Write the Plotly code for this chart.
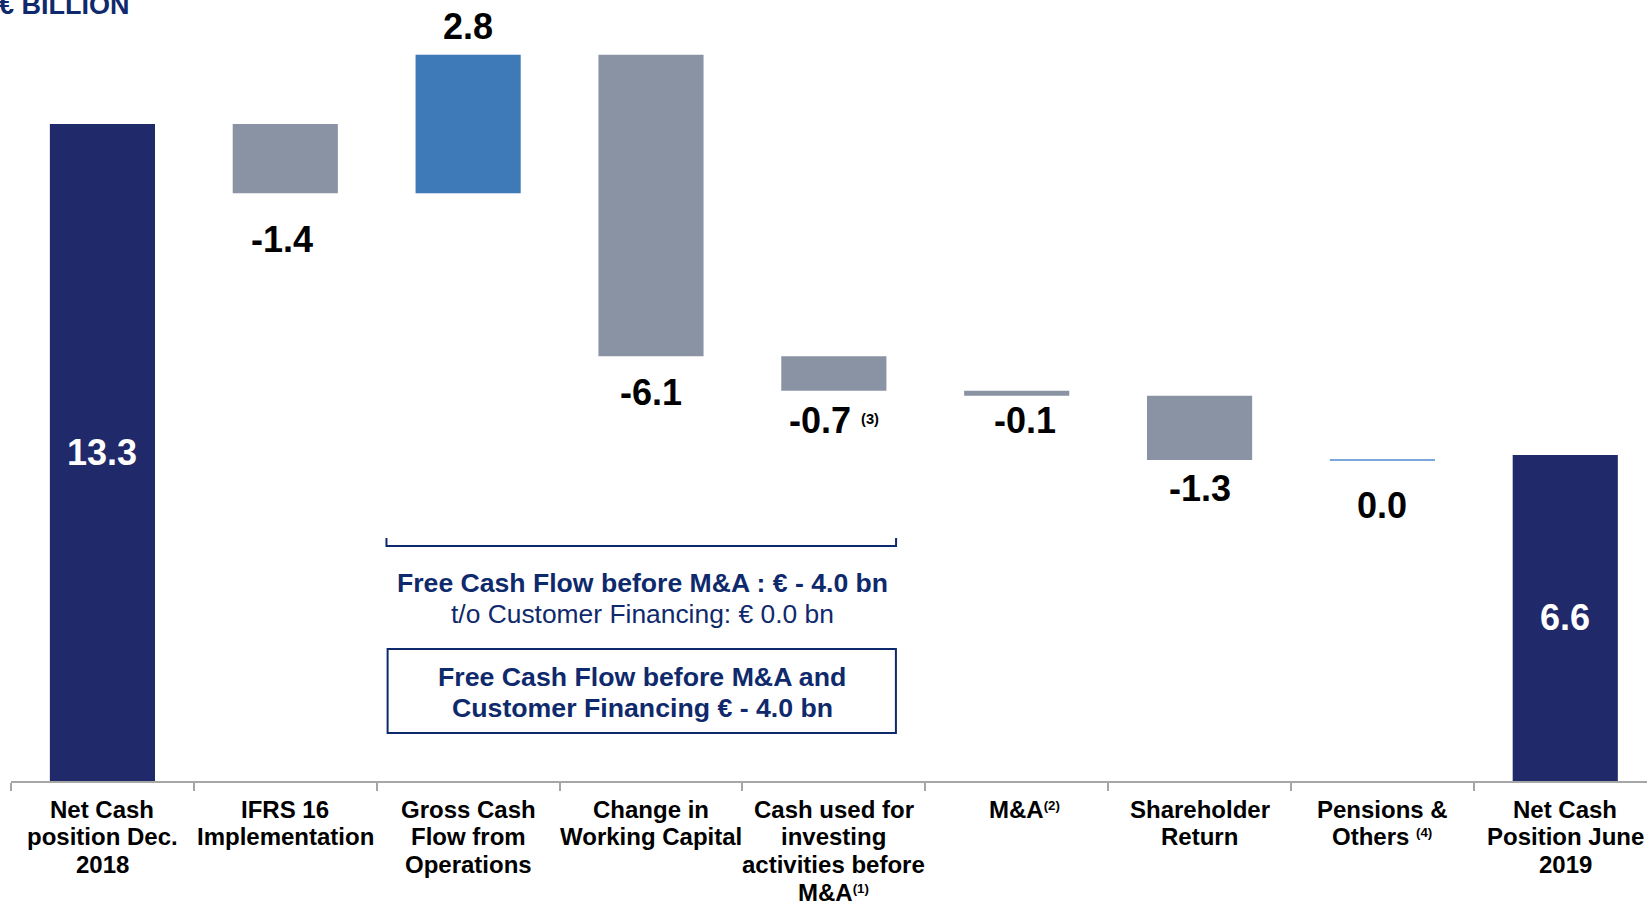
import plotly.graph_objects as go

# ---------------- data ----------------
categories = [
    "Net Cash<br>position Dec.<br>2018",
    "IFRS 16<br>Implementation",
    "Gross Cash<br>Flow from<br>Operations",
    "Change in<br>Working Capital",
    "Cash used for<br>investing<br>activities before<br>M&A<span style='font-size:19px'><sup>(1)</sup></span>",
    "M&A<span style='font-size:19px'><sup>(2)</sup></span>",
    "Shareholder<br>Return",
    "Pensions &<br>Others <span style='font-size:19px'><sup>(4)</sup></span>",
    "Net Cash<br>Position June<br>2019",
]
values = [13.3, -1.4, 2.8, -6.1, -0.7, -0.1, -1.3, 0.0, 6.6]
measures = ["absolute", "relative", "relative", "relative", "relative",
            "relative", "relative", "relative", "total"]
value_labels = ["13.3", "-1.4", "2.8", "-6.1",
                "-0.7 <span style='font-size:21px'><sup>(3)</sup></span>",
                "-0.1", "-1.3", "0.0", "6.6"]

# ---------------- styles ----------------
NAVY = "#20296A"
GRAY = "#8A93A3"
BLUE = "#3F7AB8"
LINE_BLUE = "#7CA8DC"
TEXT_NAVY = "#0F2A6C"
AXIS_GRAY = "#A6A6A6"
FONT = "Liberation Sans, Arial, sans-serif"
bar_colors = [NAVY, GRAY, BLUE, GRAY, GRAY, GRAY, GRAY, LINE_BLUE, NAVY]
label_shift = [0, -46, 28, -36, -30, -25, -29, -46, 0]   # px offset of value labels
value_xshift = [0, -3, 0, 0, 0, 8, 0, 0, 0]             # px horizontal nudge of value labels
cat_xshift = [0, 0, 0, 0, 0, 8, 0, 0, 0]                # px horizontal nudge of category labels
BAR_W = 0.575
LINE_SPACING = 27.8  # px between category label lines

# ---------------- compute waterfall geometry ----------------
bases, heights = [], []
running = 0.0
for v, m in zip(values, measures):
    if m == "relative":
        bases.append(running)
        heights.append(v)
        running += v
    else:
        bases.append(0.0)
        heights.append(v)
        running = v

xs = list(range(len(categories)))
fig = go.Figure()

bar_idx = [i for i in xs if heights[i] != 0]
fig.add_trace(go.Bar(
    x=[xs[i] for i in bar_idx],
    y=[heights[i] for i in bar_idx],
    base=[bases[i] for i in bar_idx],
    width=BAR_W,
    marker=dict(color=[bar_colors[i] for i in bar_idx], line=dict(width=0)),
    hoverinfo="skip",
    showlegend=False,
))

# zero-valued steps drawn as a thin line at the running level
for i in xs:
    if heights[i] == 0:
        fig.add_trace(go.Scatter(
            x=[xs[i] - BAR_W / 2, xs[i] + BAR_W / 2],
            y=[bases[i], bases[i]],
            mode="lines",
            line=dict(color=bar_colors[i], width=2),
            hoverinfo="skip",
            showlegend=False,
        ))

annotations = []
# value labels
for i in xs:
    if measures[i] in ("absolute", "total"):
        y = bases[i] + heights[i] / 2
        color = "white"
    else:
        y = bases[i] + heights[i]
        color = "black"
    annotations.append(dict(
        x=xs[i], y=y, xref="x", yref="y", text="<b>" + value_labels[i] + "</b>",
        showarrow=False, xanchor="center", yanchor="middle",
        yshift=label_shift[i], xshift=value_xshift[i],
        font=dict(family=FONT, size=36, color=color),
    ))

# category labels (one annotation per line for tight line spacing)
for i, cat in enumerate(categories):
    for k, line in enumerate(cat.split("<br>")):
        annotations.append(dict(
            x=xs[i], y=0, xref="x", yref="paper", text="<b>" + line + "</b>",
            showarrow=False, xanchor="center", yanchor="middle",
            yshift=-(28 + k * LINE_SPACING), xshift=cat_xshift[i],
            font=dict(family=FONT, size=24, color="black"),
        ))

# unit title
annotations.append(dict(
    x=0, y=1, xref="paper", yref="paper", xanchor="left", yanchor="middle",
    xshift=-14, yshift=-5, text="<b>€ BILLION</b>", showarrow=False,
    font=dict(family=FONT, size=27, color=TEXT_NAVY),
))

# free cash flow texts
fcf_common = dict(x=0.3857, xref="paper", yref="paper", showarrow=False,
                  xanchor="center", yanchor="middle")
annotations += [
    dict(fcf_common, y=0.2535, text="<b>Free Cash Flow before M&A : € - 4.0 bn</b>",
         font=dict(family=FONT, size=26.6, color=TEXT_NAVY)),
    dict(fcf_common, y=0.2132, text="t/o Customer Financing: € 0.0 bn",
         font=dict(family=FONT, size=26.4, color=TEXT_NAVY)),
    dict(fcf_common, y=0.1338, text="<b>Free Cash Flow before M&A and</b>",
         font=dict(family=FONT, size=26.7, color=TEXT_NAVY)),
    dict(fcf_common, y=0.0935, text="<b>Customer Financing € - 4.0 bn</b>",
         font=dict(family=FONT, size=26.7, color=TEXT_NAVY)),
]

shapes = [
    # bracket
    dict(type="path", xref="paper", yref="paper",
         path="M 0.2295,0.3111 L 0.2295,0.3009 L 0.5410,0.3009 L 0.5410,0.3111",
         line=dict(color=TEXT_NAVY, width=2)),
    # box
    dict(type="rect", xref="paper", yref="paper",
         x0=0.2302, x1=0.5409, y0=0.0615, y1=0.1690,
         line=dict(color=TEXT_NAVY, width=2), fillcolor="rgba(0,0,0,0)"),
]

fig.update_layout(
    width=1647, height=902,
    margin=dict(l=11, r=0, t=0, b=121, autoexpand=False),
    paper_bgcolor="white", plot_bgcolor="white",
    showlegend=False,
    annotations=annotations,
    shapes=shapes,
    xaxis=dict(
        range=[-0.5, 8.447], showgrid=False, zeroline=False,
        showline=True, linecolor=AXIS_GRAY, linewidth=2,
        tickvals=[i - 0.5 for i in xs], ticks="outside", ticklen=8,
        tickcolor=AXIS_GRAY, tickwidth=1.5, showticklabels=False,
    ),
    yaxis=dict(range=[0, 15.81], visible=False),
)

fig.write_html(
    "out.html",
    config={"displayModeBar": False},
    post_script="document.body.style.margin='0';document.body.style.overflow='hidden';",
)
